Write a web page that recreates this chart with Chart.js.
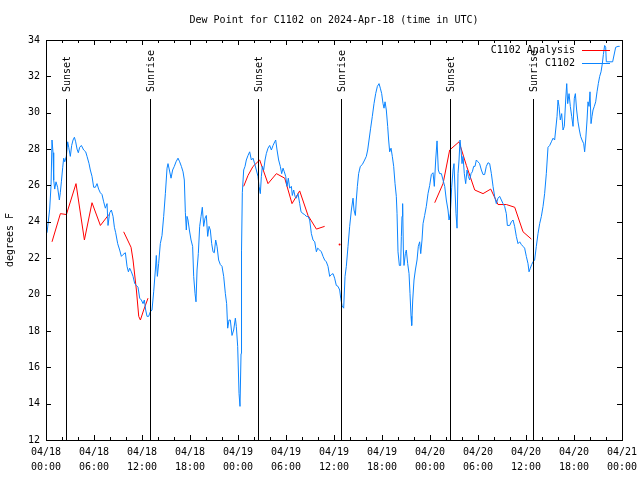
<!DOCTYPE html>
<html>
<head>
<meta charset="utf-8">
<script src="https://cdn.jsdelivr.net/npm/chart.js@4/dist/chart.umd.min.js"></script>
<style>
  html, body { margin: 0; padding: 0; background: #fff; }
  #wrap { width: 640px; height: 480px; }
</style>
</head>
<body>
<div id="wrap"><canvas id="dewCanvas" width="640" height="480"></canvas></div>
<script>
// hours since 04/18 00:00 UTC
const xTickDates = ['04/18', '04/18', '04/18', '04/18', '04/19', '04/19', '04/19', '04/19', '04/20', '04/20', '04/20', '04/20', '04/21'];
const xTickTimes = ['00:00', '06:00', '12:00', '18:00', '00:00', '06:00', '12:00', '18:00', '00:00', '06:00', '12:00', '18:00', '00:00'];

const sunHours = [2.5, 13.0, 26.5, 36.9, 50.5, 60.9];
const sunLabels = ['Sunset', 'Sunrise', 'Sunset', 'Sunrise', 'Sunset', 'Sunrise'];

// C1102 Analysis (hourly, with gaps)
const analysisHours = [0.75, 1.8, 2.55, 3.75, 4.8, 5.75, 6.8, 7.85, 8.8,
    9.71, 10.63, 10.88, 11.3, 11.59, 11.8, 12.21, 12.75, 18.0,
    24.71, 25.25, 25.88, 26.71, 27.75, 28.8, 29.84, 30.75, 31.71, 32.75, 33.8, 34.83, 35.8,
    36.7, 42.0,
    48.59, 49.63, 50.46, 51.63, 52.55, 53.59, 54.63, 55.59, 56.5, 57.55, 58.59, 59.63, 60.67];
const analysisValues = [22.9, 24.45, 24.4, 26.1, 23.0, 25.05, 23.8, 24.4, null,
    23.45, 22.6, 21.9, 20.25, 18.8, 18.6, 19.15, 19.8, null,
    25.95, 26.55, 27.05, 27.4, 26.1, 26.65, 26.4, 25.0, 25.7, 24.35, 23.6, 23.75, null,
    22.75, null,
    25.05, 26.1, 27.95, 28.4, 27.1, 25.75, 25.55, 25.8, 24.95, 24.95, 24.8, 23.45, 23.05];

// C1102 observations
const obsHours = [0.13, 0.46, 0.63, 0.75, 0.88, 0.96, 1.09, 1.25, 1.45, 1.67, 1.79, 1.92, 2.09, 2.21, 2.34, 2.54, 2.71, 2.84,
    3.04, 3.21, 3.38, 3.55, 3.71, 3.88, 4.04, 4.21, 4.42, 4.71, 4.96, 5.13, 5.38, 5.54, 5.75, 5.96,
    6.17, 6.38, 6.58, 6.79, 7.0, 7.21, 7.42, 7.63, 7.75, 7.96, 8.17, 8.38, 8.55, 8.71, 8.96,
    9.21, 9.42, 9.63, 9.92, 10.13, 10.3, 10.46, 10.67, 10.88, 11.09, 11.3, 11.5, 11.71, 11.92,
    12.13, 12.29, 12.46, 12.63, 12.83, 13.04, 13.25, 13.46, 13.67, 13.79, 13.92, 14.08, 14.29, 14.5, 14.71, 14.92,
    15.13, 15.25, 15.42, 15.63, 15.83, 16.04, 16.25, 16.5, 16.71, 16.92, 17.13, 17.29, 17.42, 17.54, 17.63, 17.75, 17.92,
    18.13, 18.33, 18.46, 18.63, 18.75, 18.88, 19.04, 19.21, 19.38, 19.54, 19.71, 19.88, 20.04, 20.21, 20.38, 20.54, 20.71, 20.88,
    21.04, 21.21, 21.38, 21.58, 21.79, 22.0, 22.21, 22.42, 22.58, 22.71, 22.88, 23.04, 23.25, 23.46, 23.67, 23.79, 23.96,
    24.13, 24.25, 24.38, 24.44, 24.54, 24.71, 24.88, 25.04, 25.25, 25.46, 25.67, 25.88, 26.08, 26.29, 26.5, 26.63, 26.79, 26.92,
    27.04, 27.21, 27.38, 27.54, 27.75, 27.96, 28.17, 28.38, 28.59, 28.71, 28.88, 29.08, 29.29, 29.46, 29.63, 29.79, 29.96,
    30.13, 30.29, 30.46, 30.67, 30.79, 30.96, 31.13, 31.29, 31.5, 31.71, 31.88, 32.13, 32.33, 32.54, 32.75, 32.96,
    33.17, 33.38, 33.59, 33.8, 33.96, 34.21, 34.42, 34.63, 34.83, 35.04, 35.25, 35.46, 35.67, 35.88,
    36.08, 36.29, 36.5, 36.71, 36.84, 37.0, 37.21, 37.38, 37.54, 37.75, 37.96, 38.17, 38.38, 38.5, 38.67, 38.79, 38.92,
    39.08, 39.29, 39.54, 39.83, 40.04, 40.21, 40.38, 40.58, 40.79, 41.0, 41.21, 41.42, 41.63, 41.79, 41.96,
    42.13, 42.25, 42.38, 42.54, 42.71, 42.83, 42.96, 43.13, 43.29, 43.46, 43.63, 43.79, 43.88, 44.0, 44.17, 44.33, 44.42, 44.5,
    44.58, 44.67, 44.75, 44.92, 45.04, 45.21, 45.38, 45.5, 45.63, 45.71, 45.84, 46.0, 46.17, 46.38, 46.54, 46.71, 46.84,
    47.0, 47.13, 47.33, 47.54, 47.75, 47.96, 48.17, 48.38, 48.54, 48.71, 48.88, 49.04, 49.2, 49.42, 49.63, 49.84,
    50.04, 50.25, 50.38, 50.54, 50.71, 50.88, 51.0, 51.13, 51.25, 51.38, 51.5, 51.63, 51.75, 51.88, 52.0, 52.13, 52.29, 52.46,
    52.63, 52.79, 52.96, 53.13, 53.29, 53.46, 53.63, 53.79, 54.0, 54.2, 54.42, 54.63, 54.83, 55.04, 55.25, 55.46, 55.67, 55.88,
    56.08, 56.29, 56.5, 56.71, 56.92, 57.13, 57.33, 57.54, 57.67, 57.96, 58.17, 58.38, 58.58, 58.79, 59.0, 59.21, 59.42, 59.63, 59.83,
    60.04, 60.25, 60.38, 60.54, 60.71, 60.88, 61.08, 61.29, 61.5, 61.71, 61.92, 62.13, 62.33, 62.54, 62.75, 62.96,
    63.17, 63.38, 63.58, 63.71, 63.88, 64.0, 64.13, 64.29, 64.46, 64.63, 64.79, 64.96, 65.09, 65.21, 65.38, 65.54, 65.71, 65.88,
    66.04, 66.17, 66.33, 66.5, 66.67, 66.83, 67.0, 67.21, 67.33, 67.46, 67.63, 67.75, 67.88, 68.0, 68.13, 68.25, 68.38, 68.54,
    68.71, 68.88, 69.04, 69.21, 69.38, 69.54, 69.67, 69.83, 69.96, 70.04, 70.83, 71.21, 71.5, 71.71];
const obsValues = [23.4, 24.7, 26.0, 28.5, 27.8, 26.3, 25.8, 26.2, 25.9, 25.2, 25.6, 26.2, 27.0, 27.5, 27.3, 27.6, 28.4, 28.1,
    27.6, 28.2, 28.5, 28.65, 28.4, 28.0, 27.8, 28.1, 28.2, 27.95, 27.85, 27.6, 27.2, 26.85, 26.5, 25.9,
    25.9, 26.1, 25.8, 25.6, 25.5, 25.1, 24.75, 25.0, 23.8, 24.5, 24.65, 24.3, 23.7, 23.4, 22.8,
    22.45, 22.1, 22.2, 22.3, 21.55, 21.25, 21.45, 21.25, 21.0, 20.6, 20.5, 20.4, 19.8, 19.7,
    19.5, 19.7, 19.15, 18.8, 18.8, 19.05, 19.15, 20.15, 21.35, 22.15, 21.0, 21.7, 22.8, 23.25, 24.3, 25.55,
    26.95, 27.2, 26.85, 26.4, 26.85, 27.05, 27.3, 27.5, 27.3, 27.05, 26.75, 26.3, 24.5, 23.55, 24.3, 24.1, 23.55,
    23.0, 22.65, 21.0, 20.05, 19.6, 21.35, 22.25, 23.75, 24.3, 24.8, 23.75, 24.2, 24.35, 23.2, 23.75, 23.55, 22.8, 22.35,
    22.3, 23.0, 22.65, 21.9, 21.65, 21.55, 21.0, 20.05, 19.5, 18.15, 18.6, 18.6, 17.75, 18.05, 18.7, 18.25, 17.15,
    14.55, 13.85, 16.75, 22.4, 25.6, 26.85, 27.05, 27.4, 27.65, 27.85, 27.4, 27.5, 27.2, 26.85, 26.5, 25.95, 25.55, 26.5,
    27.05, 26.85, 27.4, 27.75, 28.05, 28.2, 27.95, 28.2, 28.4, 28.5, 27.95, 27.4, 27.05, 26.65, 26.95, 26.75, 26.5,
    25.95, 26.4, 25.85, 25.95, 25.45, 25.75, 25.4, 25.3, 25.55, 25.0, 24.55, 24.45, 24.4, 24.3, 24.3, 24.1,
    23.35, 23.0, 22.9, 22.35, 22.55, 22.45, 22.35, 22.1, 21.9, 21.8, 21.55, 21.0, 21.1, 21.15,
    20.9, 20.5, 20.45, 20.25, 19.8, 19.4, 19.25, 21.0, 21.55, 22.65, 23.75, 24.65, 25.3, 24.65, 24.35, 25.2, 25.95,
    26.65, 27.05, 27.15, 27.4, 27.6, 27.95, 28.5, 29.15, 29.8, 30.5, 31.05, 31.45, 31.6, 31.35, 31.05,
    30.5, 30.25, 30.6, 30.15, 29.25, 28.5, 27.85, 28.05, 27.6, 27.05, 26.1, 25.4, 24.45, 22.35, 21.6, 21.6, 23.2, 24.3,
    25.0, 22.45, 21.6, 22.25, 22.45, 21.7, 21.15, 20.05, 18.8, 18.3, 19.7, 20.8, 21.35, 21.9, 22.65, 22.9, 22.25,
    23.0, 23.9, 24.35, 24.85, 25.55, 26.0, 26.6, 26.7, 25.95, 27.4, 28.45, 26.85, 26.65, 26.65, 26.3, 25.95,
    25.2, 24.65, 24.1, 24.45, 25.9, 26.85, 27.2, 25.75, 24.45, 23.65, 26.65, 27.4, 28.5, 27.95, 27.2, 27.6, 26.65, 26.1,
    26.85, 26.5, 26.3, 26.65, 26.75, 27.05, 27.05, 27.4, 27.3, 27.2, 26.85, 26.6, 26.6, 27.05, 27.25, 27.2, 26.65, 25.95,
    25.4, 25.0, 25.3, 25.4, 25.2, 25.0, 24.85, 24.45, 23.8, 23.8, 24.0, 24.1, 23.75, 23.2, 22.8, 22.9, 22.75, 22.65, 22.55,
    22.1, 21.7, 21.25, 21.45, 21.65, 21.8, 21.9, 22.65, 23.35, 23.9, 24.3, 24.85, 25.55, 26.65, 28.1, 28.2,
    28.4, 28.6, 28.5, 29.05, 29.8, 30.7, 30.35, 29.6, 29.95, 29.05, 29.25, 30.7, 31.6, 30.5, 31.05, 30.35, 29.8, 29.25,
    30.8, 31.05, 30.15, 29.5, 29.05, 28.7, 28.5, 28.3, 27.85, 28.5, 29.6, 30.6, 30.35, 31.15, 29.4, 29.8, 30.15, 30.35,
    30.6, 31.15, 31.6, 32.0, 32.25, 32.7, 33.2, 33.7, 33.6, 32.8, 32.8, 33.6, 33.65, 33.65];

const monoFont = "'DejaVu Sans Mono', 'Liberation Mono', monospace";

function toPoints(xs, ys) {
    return xs.map((h, i) => ({ x: h, y: ys[i] }));
}

// gnuplot-ish frame: title, border, inward ticks, sun lines, legend
const gnuplotFrame = {
    id: 'gnuplotFrame',
    beforeDraw(chart) {
        const ctx = chart.ctx;
        ctx.save();
        ctx.fillStyle = '#fff';
        ctx.fillRect(0, 0, chart.width, chart.height);
        ctx.restore();
    },
    afterDatasetsDraw(chart) {
        const { ctx, chartArea: a, scales: { x, y } } = chart;
        ctx.save();
        ctx.strokeStyle = '#000';
        ctx.fillStyle = '#000';
        ctx.lineWidth = 1;
        ctx.font = '10px ' + monoFont;

        // sunrise / sunset markers
        sunHours.forEach((h, i) => {
            const px = Math.round(x.getPixelForValue(h)) + 0.5;
            ctx.beginPath();
            ctx.moveTo(px, a.top + 59);
            ctx.lineTo(px, a.bottom);
            ctx.stroke();
            ctx.save();
            ctx.translate(px + 1, a.top + 52);
            ctx.rotate(-Math.PI / 2);
            ctx.textAlign = 'left';
            ctx.textBaseline = 'middle';
            ctx.fillText(sunLabels[i], 0, 0);
            ctx.restore();
        });

        // border
        ctx.strokeRect(Math.round(a.left) + 0.5, Math.round(a.top) + 0.5,
            Math.round(a.right - a.left), Math.round(a.bottom - a.top));

        // x ticks (major every 6h, minor every 2h), mirrored on top
        for (let h = 0; h <= 72; h += 2) {
            const px = Math.round(x.getPixelForValue(h)) + 0.5;
            const len = h % 6 === 0 ? 5 : 3;
            ctx.beginPath();
            ctx.moveTo(px, a.bottom);
            ctx.lineTo(px, a.bottom - len);
            ctx.moveTo(px, a.top);
            ctx.lineTo(px, a.top + len);
            ctx.stroke();
        }
        // y ticks, mirrored on right
        for (let v = 12; v <= 34; v += 2) {
            const py = Math.round(y.getPixelForValue(v)) + 0.5;
            ctx.beginPath();
            ctx.moveTo(a.left, py);
            ctx.lineTo(a.left + 5, py);
            ctx.moveTo(a.right, py);
            ctx.lineTo(a.right - 5, py);
            ctx.stroke();
        }

        // title
        ctx.textAlign = 'center';
        ctx.textBaseline = 'middle';
        ctx.fillText('Dew Point for C1102 on 2024-Apr-18 (time in UTC)', (a.left + a.right) / 2, 20);

        // legend, top right inside the plot
        chart.data.datasets.forEach((ds, i) => {
            const ly = a.top + 10 + i * 13;
            ctx.textAlign = 'right';
            ctx.fillText(ds.label, a.right - 47, ly);
            ctx.strokeStyle = ds.borderColor;
            ctx.beginPath();
            ctx.moveTo(a.right - 40, Math.round(ly) + 0.5);
            ctx.lineTo(a.right - 12, Math.round(ly) + 0.5);
            ctx.stroke();
        });
        ctx.restore();
    }
};

new Chart(document.getElementById('dewCanvas'), {
    type: 'line',
    data: {
        datasets: [{
            label: 'C1102 Analysis',
            data: toPoints(analysisHours, analysisValues),
            borderColor: '#ff0000',
            borderWidth: 1,
            spanGaps: false,
            order: 1,
            pointRadius: (c) => {
                const v = analysisValues;
                const i = c.dataIndex;
                return (v[i] !== null && v[i - 1] == null && v[i + 1] == null) ? 1 : 0;
            },
            pointBackgroundColor: '#ff0000',
            pointBorderWidth: 0
        }, {
            label: 'C1102',
            data: toPoints(obsHours, obsValues),
            borderColor: '#0a84ff',
            borderWidth: 1,
            pointRadius: 0,
            order: 0
        }]
    },
    options: {
        responsive: false,
        animation: false,
        events: [],
        layout: { padding: { top: 40, right: 18, left: 0, bottom: 0 } },
        plugins: {
            legend: { display: false },
            title: { display: false },
            tooltip: { enabled: false }
        },
        scales: {
            x: {
                type: 'linear',
                min: 0,
                max: 72,
                afterFit(s) {
                    s.height = 40;
                    s.paddingLeft = 0;
                    s.paddingRight = 0;
                },
                grid: { display: false, drawTicks: false, tickLength: 0 },
                border: { display: false },
                ticks: {
                    stepSize: 6,
                    autoSkip: false,
                    maxRotation: 0,
                    padding: 5,
                    color: '#000',
                    font: { family: monoFont, size: 10, lineHeight: 1.5 },
                    callback: (value) => {
                        const i = Math.round(value / 6);
                        return [xTickDates[i], xTickTimes[i]];
                    }
                }
            },
            y: {
                min: 12,
                max: 34,
                afterFit(s) { s.width = 46; },
                grid: { display: false, drawTicks: false, tickLength: 0 },
                border: { display: false },
                title: {
                    display: true,
                    text: 'degrees F',
                    color: '#000',
                    font: { family: monoFont, size: 10 },
                    padding: { top: 4, bottom: 0 }
                },
                ticks: {
                    stepSize: 2,
                    padding: 6,
                    color: '#000',
                    font: { family: monoFont, size: 10 }
                }
            }
        }
    },
    plugins: [gnuplotFrame]
});
</script>
</body>
</html>
